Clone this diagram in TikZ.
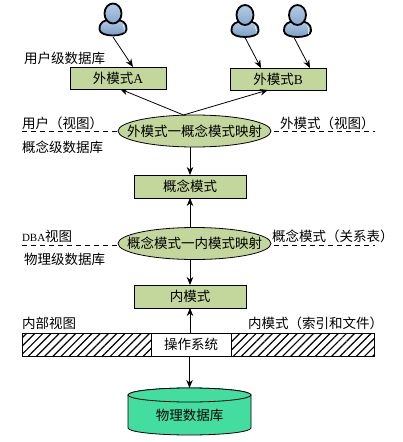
\documentclass[tikz,border=0pt]{standalone}
\usepackage{fontspec}
\setmainfont{Noto Sans CJK SC}
\newfontfamily\latf{Liberation Serif}
\usetikzlibrary{arrows.meta,shapes.geometric,patterns.meta}
\definecolor{boxgreen}{HTML}{C3D69B}
\definecolor{dbgreen}{HTML}{44DDA0}
\definecolor{personA}{HTML}{B4CCE4}
\definecolor{personB}{HTML}{7297C2}
\definecolor{personC}{HTML}{86A8CE}
\newcommand{\personfig}[3]{%
  % #1 x, #2 y of head centre, #3 body half-width
  \begin{scope}[shift={(#1,#2)}]
    \draw[line width=1.8pt,top color=personA,bottom color=personB]
      (-#3,16) .. controls (-#3,7) and (-8,8) .. (-5,6)
      -- (5,6) .. controls (8,8) and (#3,7) .. (#3,16)
      .. controls (#3,24) and (-#3,24) .. (-#3,16) -- cycle;
    \draw[white,line width=.6pt] (10,11) .. controls (11.5,13) and (11.5,16) .. (11,19);
    \draw[line width=1.8pt,top color=personA,bottom color=personC]
      (0,0) ellipse [x radius=8.5,y radius=10];
  \end{scope}}
\tikzset{
  x=1pt,y=-1pt,
  every node/.style={font=\fontsize{13.5}{16}\selectfont,inner sep=0pt,outer sep=0pt},
  modelbox/.style={draw=black,line width=.8pt,fill=boxgreen,minimum height=22pt,anchor=center},
  mapell/.style={draw=black,line width=.8pt,fill=boxgreen,ellipse,inner xsep=-14pt,minimum width=153pt,minimum height=32pt},
  lbl/.style={anchor=west},
  conn/.style={draw=black,line width=.8pt,-{Stealth[length=8pt,width=6.5pt]}},
  dashline/.style={draw=black,line width=.7pt,dash pattern=on 5pt off 4pt},
  hatchbar/.style={draw=black,line width=.8pt,pattern={Lines[angle=45,distance=5.8pt,line width=1.2pt]}},
}
\begin{document}
\begin{tikzpicture}
\useasboundingbox (0,0) rectangle (402,442);
% dashed separators
\coordinate (d1l) at (22,131); \coordinate (d1r) at (375,131);
\coordinate (d2l) at (22,245); \coordinate (d2r) at (375,245);
\draw[dashline] (d1l) -- (d1r);
\draw[dashline] (d2l) -- (d2r);
% persons
\personfig{113}{13.5}{13.5}
\personfig{245}{15}{13.5}
\personfig{297.5}{15}{13.5}
\coordinate (p1) at (113,37);
\coordinate (p2) at (245,37.5);
\coordinate (p3) at (294,37.5);
% boxes
\node[modelbox,minimum width=96pt] (extA) at (118,78) {外模式{\latf A}};
\node[modelbox,minimum width=96pt] (extB) at (278,79) {外模式{\latf B}};
\node[mapell] (map1) at (194.5,131) {外模式一概念模式映射};
\node[modelbox,minimum width=112pt,minimum height=23pt] (concept) at (190,186.5) {概念模式};
\node[mapell] (map2) at (194.5,243.5) {概念模式一内模式映射};
\node[modelbox,minimum width=112pt,minimum height=23pt] (inner) at (190,296.5) {内模式};
% hatched bar
\node[hatchbar,minimum width=129pt,minimum height=23pt] (hatchL) at (86.5,344.5) {};
\node[hatchbar,minimum width=143pt,minimum height=23pt] (hatchR) at (302.5,344.5) {};
\node[draw=black,line width=.8pt,fill=white,minimum width=80pt,minimum height=23pt] (os) at (191,344.5) {操作系统};
% cylinder
\draw[draw=black,line width=.8pt,fill=dbgreen]
  (128,395) -- (128,428) arc[start angle=180,end angle=360,x radius=61.5,y radius=-7]
  -- (251,395) arc[start angle=0,end angle=180,x radius=61.5,y radius=-7] -- cycle;
\draw[draw=black,line width=.8pt,fill=dbgreen] (189.5,395) ellipse [x radius=61.5,y radius=7];
\node[minimum width=123pt,minimum height=47pt] (db) at (189.5,411.5) {};
\node (dbtext) at (189.5,415) {物理数据库};
% connectors
\coordinate (a1) at (133,67);
\coordinate (a2) at (261,68);
\coordinate (a3) at (310,68);
\coordinate (m1top) at (183.5,115);
\coordinate (aend) at (120,89);
\coordinate (bend) at (268,90);
\draw[conn] (p1) -- (a1);
\draw[conn] (p2) -- (a2);
\draw[conn] (p3) -- (a3);
\draw[conn] (m1top) -- (aend);
\draw[conn] (m1top) -- (bend);
\draw[conn] (map1.south -| concept.north) -- (concept.north);
\draw[conn] (map2.north -| concept.south) -- (concept.south);
\draw[conn] (map2.south -| inner.north) -- (inner.north);
\draw[conn] (os.north -| inner.south) -- (inner.south);
\draw[conn] (os.south -| db.north) -- (db.north);
% labels
\node[lbl] (l1) at (24,58) {用户级数据库};
\node[lbl] (l2) at (22,123) {用户（视图）};
\node[lbl] (l3) at (22,147) {概念级数据库};
\node[lbl] (l4) at (280,123) {外模式（视图）};
\node[lbl] (l5) at (22,236) {{\latf\fontsize{11}{13}\selectfont DBA}视图};
\node[lbl] (l6) at (24,259.5) {物理级数据库};
\node[lbl] (l7) at (272,236) {概念模式（关系表）};
\node[lbl] (l8) at (22,323) {内部视图};
\node[lbl] (l9) at (248,323) {内模式（索引和文件）};
\end{tikzpicture}
\end{document}
